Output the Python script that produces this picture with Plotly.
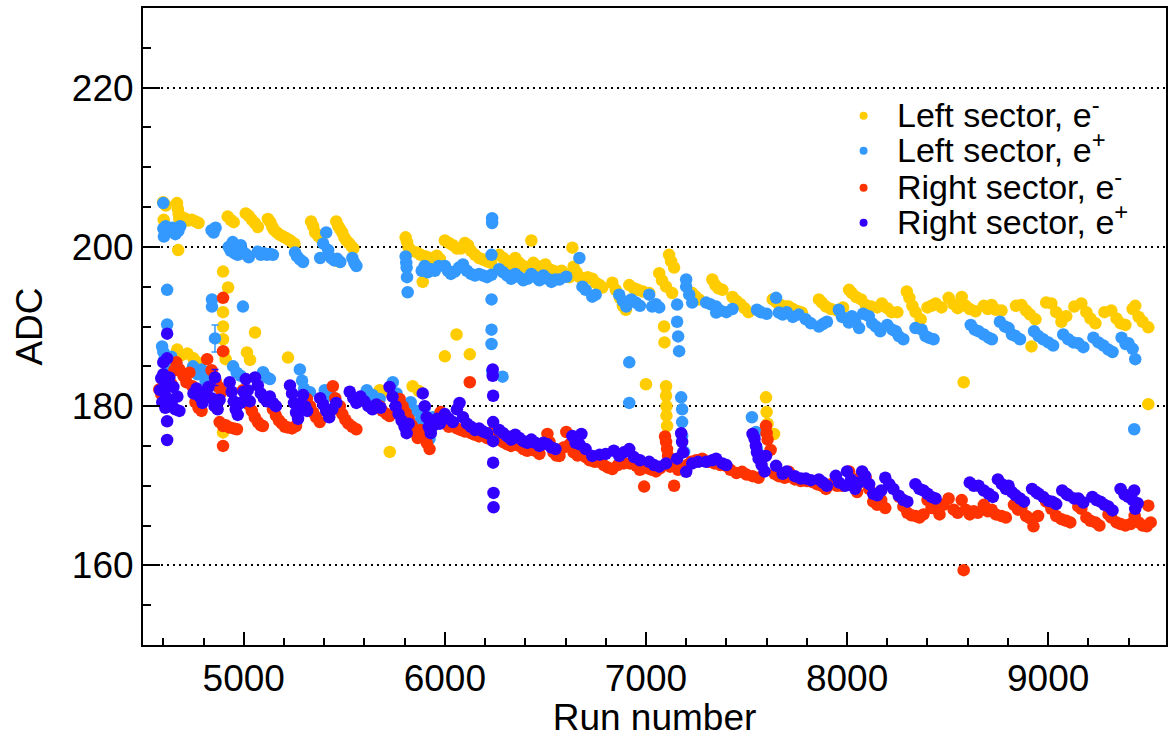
import plotly.graph_objects as go

# ---- Pedestal-subtracted ADC peak position versus run, per sector and beam charge ----
# Each list holds (run number, ADC) pairs.

left_em = [
    # upper band
    (4599, 205.6), (4602, 203.4), (4612, 205.2), (4668, 205.5), (4672, 204.8), (4676, 204.2),
    (4680, 203.5), (4684, 202.7), (4674, 199.6), (4705, 203.6), (4725, 203.3), (4742, 203.4),
    (4760, 203.2), (4775, 203.0),
    (4920, 203.8), (4935, 203.4), (4950, 203.1), (5010, 204.2), (5025, 203.9), (5040, 203.4),
    (5055, 203.0), (5070, 202.5),
    (5120, 203.5), (5132, 203.1), (5142, 202.5), (5152, 202.1), (5165, 201.8), (5180, 201.5),
    (5195, 201.3), (5210, 201.1), (5225, 200.9), (5240, 200.6), (5252, 200.4),
    (5335, 203.2), (5345, 202.6), (5355, 201.8), (5370, 201.4), (5385, 201.0), (5460, 203.2),
    (5470, 202.6), (5480, 202.2), (5490, 201.8), (5500, 201.2), (5510, 200.8), (5522, 200.5),
    (5535, 200.1), (5545, 199.8), (5468, 198.2),
    (5805, 201.2), (5812, 200.6), (5820, 199.9), (5835, 199.5), (5860, 199.3), (5880, 199.0),
    (5890, 195.6), (5905, 198.8), (5925, 198.6), (5940, 198.4), (5960, 198.9), (5975, 198.5),
    (6000, 200.8), (6020, 200.5), (6040, 200.2), (6060, 199.8), (6080, 199.8), (6100, 200.5),
    (6115, 200.2), (6130, 199.5), (6150, 199.0), (6170, 198.6), (6190, 198.4), (6210, 198.2),
    (6230, 198.0),
    (6270, 199.0), (6290, 198.6), (6310, 198.2), (6330, 197.8), (6350, 198.6), (6370, 198.0),
    (6390, 197.6), (6410, 197.4), (6430, 200.8), (6440, 198.0), (6460, 197.6), (6480, 197.4),
    (6500, 197.8), (6520, 197.2), (6540, 197.0), (6555, 196.6),
    (6580, 197.0), (6600, 196.6), (6620, 196.2), (6634, 199.9), (6640, 197.5), (6655, 196.8),
    (6670, 196.2), (6690, 196.0), (6710, 196.2), (6733, 196.0), (6750, 195.5), (6770, 195.2),
    (6783, 194.9),
    (6833, 195.5), (6850, 194.6), (6870, 193.6), (6885, 192.6), (6900, 192.1), (6917, 195.2),
    (6940, 194.8), (6960, 194.6), (6985, 194.4), (7016, 194.2), (7066, 196.7), (7080, 195.8),
    (7100, 195.0), (7130, 194.2), (7115, 199.0), (7125, 198.2), (7140, 197.4),
    (7090, 190.0), (7092, 188.0),
    (7230, 194.2), (7245, 193.8), (7264, 193.4), (7330, 195.9), (7345, 195.2), (7360, 194.8),
    (7380, 194.6), (7430, 193.7), (7450, 193.2), (7470, 192.8), (7490, 192.3), (7510, 191.8),
    (7630, 193.4), (7650, 193.0), (7670, 192.7), (7700, 192.5), (7710, 192.5), (7730, 192.2),
    (7755, 191.9), (7775, 191.75), (7860, 193.4), (7875, 193.0), (7895, 192.5), (7920, 192.2),
    (7950, 192.0), (7980, 192.4),
    (8010, 194.6), (8024, 194.2), (8045, 193.7), (8070, 193.4), (8093, 192.7), (8120, 192.5),
    (8150, 192.4), (8173, 192.9), (8200, 192.3), (8222, 191.8), (8250, 191.8), (8297, 194.4),
    (8310, 193.6), (8325, 192.6), (8341, 191.8), (8366, 190.9),
    (8400, 192.4), (8420, 192.6), (8441, 192.9), (8470, 192.4), (8505, 193.6), (8530, 192.8),
    (8550, 192.3), (8570, 193.7), (8590, 192.6), (8610, 192.2), (8639, 191.9), (8680, 192.6),
    (8700, 192.2), (8719, 192.7), (8740, 192.1), (8768, 192.0),
    (8840, 192.6), (8867, 192.7), (8890, 192.0), (8910, 191.5), (8937, 190.9), (8990, 193.0),
    (9016, 192.9), (9040, 191.8), (9066, 190.6), (9090, 191.3), (9130, 192.5), (9165, 192.9),
    (9190, 191.8), (9210, 191.0), (9235, 190.4),
    (9280, 191.8), (9314, 192.0), (9340, 191.0), (9360, 190.4), (9384, 190.2), (9420, 192.2),
    (9433, 192.6), (9450, 191.2), (9470, 190.6), (9498, 189.9),
    # runs far off the band
    (4897, 196.9), (4922, 194.9), (4897, 191.8), (4897, 190.0), (5056, 189.25), (4897, 188.4),
    (4900, 186.8), (4910, 185.9), (4669, 187.1), (4690, 186.4), (4720, 186.6), (4750, 186.0),
    (4768, 185.5), (5016, 186.75), (5031, 185.8), (5220, 186.1), (4897, 176.7),
    (5676, 182.0), (5700, 181.8), (5840, 182.5), (5870, 181.9), (5726, 174.25),
    (6000, 186.25), (6058, 189.0), (6124, 186.5), (7000, 182.75),
    (7100, 182.5), (7100, 181.3), (7102, 180.0), (7102, 178.8), (7105, 177.5),
    (7597, 181.1), (7600, 179.25), (7605, 177.8), (7637, 176.5),
    (8580, 183.0), (8917, 187.5), (9498, 180.25),
]

left_ep = [
    # upper band
    (4600, 205.5), (4600, 202.3), (4603, 201.3), (4612, 202.6), (4630, 202.0), (4645, 202.4),
    (4660, 201.6), (4675, 202.0), (4684, 202.6),
    (4840, 202.1), (4850, 201.8), (4860, 202.4),
    (4925, 200.0), (4935, 199.5), (4945, 200.6), (4955, 199.2), (4970, 199.0), (4985, 200.2),
    (5000, 199.3), (5015, 199.0), (5025, 198.7),
    (5070, 199.4), (5085, 199.0), (5100, 199.2), (5115, 199.0), (5130, 199.1), (5145, 199.0),
    (5255, 199.3), (5265, 198.8), (5280, 198.4), (5295, 198.1),
    (5380, 198.6), (5395, 200.4), (5410, 201.8), (5420, 199.6), (5435, 198.6), (5450, 198.3),
    (5465, 198.5), (5480, 198.1),
    (5540, 198.6), (5550, 198.0), (5560, 197.6),
    (5805, 198.8), (5808, 198.0), (5810, 197.4), (5812, 196.2), (5815, 194.3),
    (5885, 197.0), (5900, 197.6), (5915, 196.8), (5930, 197.2), (5950, 197.0), (5970, 197.6),
    (6000, 197.6), (6015, 197.0), (6030, 196.6), (6050, 196.9), (6070, 197.4), (6090, 197.8),
    (6110, 197.0), (6130, 196.6), (6150, 196.4), (6170, 196.6), (6190, 196.4), (6210, 196.2),
    (6235, 203.6), (6235, 203.0), (6232, 199.0), (6232, 196.5), (6232, 193.4), (6232, 189.6),
    (6232, 187.8), (6235, 184.4), (6287, 183.7),
    (6270, 197.2), (6290, 196.8), (6310, 196.4), (6330, 196.0), (6350, 196.6), (6370, 196.2),
    (6390, 195.8), (6410, 196.0), (6430, 196.6), (6450, 196.2), (6470, 195.8), (6490, 196.4),
    (6510, 196.0), (6530, 195.6), (6550, 195.9),
    (6570, 195.9), (6604, 196.25), (6669, 198.6), (6684, 195.0), (6700, 194.6), (6733, 193.75),
    (6750, 194.0), (6867, 194.0), (6885, 193.2), (6902, 192.5), (6927, 193.4), (6950, 193.0),
    (6970, 192.6), (7016, 194.0), (7031, 192.5), (7050, 192.8), (7066, 192.4),
    (7155, 192.75), (7155, 190.6), (7160, 188.75), (7165, 186.9), (7200, 195.9), (7200, 195.0),
    (7215, 194.0), (7230, 193.0),
    (7299, 193.0), (7320, 192.8), (7349, 192.5), (7349, 191.75), (7370, 192.0), (7400, 191.8),
    (7430, 192.2),
    (7552, 192.1), (7570, 191.8), (7600, 191.6), (7647, 193.6), (7661, 191.75), (7680, 191.5),
    (7700, 191.8), (7730, 191.2), (7760, 191.5), (7795, 190.9), (7820, 190.4), (7860, 190.0),
    (7880, 190.3), (7900, 190.6), (7959, 192.1), (7975, 191.2), (8009, 190.5),
    (8024, 191.3), (8040, 190.6), (8060, 189.8), (8080, 191.6), (8108, 191.3), (8125, 190.4),
    (8143, 190.0), (8165, 189.4), (8200, 190.2), (8225, 189.6), (8242, 189.4), (8257, 188.8),
    (8280, 188.4), (8340, 189.8), (8371, 189.6), (8390, 188.8), (8406, 188.6), (8430, 188.4),
    (8615, 190.2), (8635, 189.6), (8654, 189.4), (8680, 189.0), (8704, 188.6), (8720, 188.4),
    (8760, 190.6), (8785, 190.0), (8803, 189.8), (8820, 189.0), (8838, 188.8), (8860, 188.4),
    (8930, 189.4), (8952, 188.8), (8975, 188.4), (9001, 188.0), (9025, 187.6),
    (9075, 189.0), (9100, 188.4), (9125, 188.0), (9150, 187.9), (9175, 187.4),
    (9225, 188.6), (9250, 188.0), (9275, 187.6), (9299, 187.1), (9320, 186.8),
    (9365, 188.6), (9385, 187.8), (9399, 187.9), (9420, 187.2), (9433, 185.9),
    # lower band and spikes
    (4594, 187.5), (4600, 186.8), (4605, 185.8), (4620, 185.0), (4640, 186.2), (4669, 185.0),
    (4619, 194.6), (4619, 190.25),
    (4748, 185.0), (4770, 184.0), (4790, 184.6), (4810, 183.2), (4830, 184.0), (4850, 183.0),
    (4867, 182.5), (4842, 193.4), (4842, 192.5), (4996, 192.5),
    (4947, 185.0), (4965, 184.2), (4985, 183.8), (5096, 184.25), (5115, 183.6), (5130, 183.4),
    (5279, 184.6), (5290, 183.2), (5300, 182.2), (5329, 181.75),
    (5403, 182.0), (5430, 181.3), (5612, 182.0), (5640, 181.4), (5676, 180.9),
    (5741, 183.0), (5760, 181.6), (5775, 180.2), (5790, 178.6), (5800, 177.5),
    (5830, 180.5), (5860, 179.4), (5880, 178.2), (5900, 179.8), (5924, 175.9), (5940, 178.6),
    (6917, 185.5), (6917, 180.4),
    (7175, 181.1), (7180, 179.6), (7180, 178.0), (7180, 176.25), (7190, 174.25),
    (7527, 178.6), (7547, 176.75), (7552, 174.6),
    (9428, 177.1),
]

right_em = [
    (4580, 182.1), (4590, 181.5), (4600, 182.5), (4610, 181.0), (4620, 180.2), (4640, 182.8),
    (4655, 184.5), (4665, 185.5), (4680, 184.6), (4700, 183.8), (4715, 183.0), (4730, 184.2),
    (4745, 182.5), (4760, 180.5), (4775, 179.8), (4790, 179.4),
    (4818, 185.9), (4840, 184.5), (4860, 183.2), (4875, 182.4), (4890, 181.8), (4897, 186.9),
    (4897, 193.6), (4897, 175.0), (4897, 177.5), (4880, 178.0), (4910, 177.6), (4930, 177.3),
    (4950, 177.2), (4966, 177.1),
    (4996, 182.0), (5010, 181.0), (5025, 180.2), (5040, 179.4), (5055, 178.6), (5070, 178.0),
    (5085, 177.6), (5095, 177.5),
    (5145, 179.6), (5160, 178.8), (5175, 178.2), (5190, 177.8), (5205, 177.4), (5220, 177.3),
    (5240, 177.2), (5260, 177.5),
    (5314, 180.9), (5330, 180.0), (5345, 179.2), (5360, 178.6), (5378, 178.0),
    (5443, 182.5), (5455, 181.0), (5470, 179.6), (5478, 180.0), (5490, 179.0), (5505, 178.3),
    (5520, 177.8), (5540, 177.4), (5560, 177.1),
    (5676, 180.0), (5690, 179.4), (5710, 179.0), (5725, 178.75),
    (5775, 180.9), (5790, 180.0), (5805, 179.2), (5820, 178.4), (5835, 177.6), (5850, 176.8),
    (5865, 176.0), (5880, 177.0), (5895, 176.2), (5910, 175.4), (5924, 174.6),
    (5979, 179.25), (6000, 177.8), (6020, 177.4), (6040, 177.6), (6060, 177.2), (6080, 177.0),
    (6100, 176.8), (6124, 183.0), (6130, 176.6), (6150, 176.4), (6170, 176.2), (6190, 176.5),
    (6210, 176.0), (6230, 175.8), (6240, 176.8),
    (6270, 175.8), (6290, 175.5), (6310, 175.2), (6330, 175.0), (6350, 175.4), (6370, 175.0),
    (6390, 174.6), (6410, 174.4), (6430, 174.8), (6450, 174.4), (6470, 174.0), (6490, 175.2),
    (6510, 176.5), (6520, 175.5), (6540, 174.2), (6555, 173.8),
    (6570, 173.75), (6590, 174.8), (6604, 176.75), (6620, 175.2), (6640, 174.2), (6660, 173.8),
    (6680, 174.0), (6700, 173.6), (6720, 173.2), (6745, 173.0), (6768, 173.0), (6790, 172.6),
    (6810, 172.3), (6833, 172.1), (6860, 172.6), (6890, 172.8), (6920, 172.8), (6952, 172.5),
    (6970, 172.0), (6991, 169.9), (7010, 172.2), (7030, 172.0), (7050, 171.8), (7070, 172.2),
    (7095, 176.2), (7100, 175.5), (7105, 174.6), (7110, 173.75), (7120, 172.4), (7140, 170.0),
    (7160, 172.0), (7185, 172.2), (7205, 172.6), (7225, 173.0), (7250, 173.2), (7280, 173.4),
    (7310, 173.0), (7340, 172.8), (7370, 172.6), (7398, 172.5), (7420, 172.0), (7450, 171.6),
    (7478, 171.75), (7500, 171.4), (7530, 171.2), (7560, 171.0), (7597, 177.5), (7600, 176.6),
    (7605, 175.8), (7620, 174.5), (7640, 171.5), (7660, 171.2), (7690, 171.0), (7711, 171.75),
    (7740, 170.8), (7770, 170.6), (7800, 170.6), (7825, 170.5), (7850, 170.2), (7875, 170.0),
    (7895, 169.6), (7920, 170.2), (7950, 170.0), (7974, 170.0),
    (8010, 171.8), (8030, 170.4), (8050, 169.2), (8070, 171.3), (8093, 171.0), (8110, 169.6),
    (8130, 168.0), (8150, 167.6), (8170, 168.2), (8190, 167.2), (8260, 168.6), (8280, 167.4),
    (8300, 166.6), (8320, 166.3), (8341, 166.2), (8360, 166.0), (8380, 166.4), (8400, 168.2),
    (8420, 167.2), (8441, 167.1), (8460, 166.4), (8480, 167.6), (8505, 168.4), (8530, 167.0),
    (8550, 166.6), (8570, 168.2), (8590, 167.0), (8610, 166.4), (8630, 166.8), (8650, 166.6),
    (8580, 159.4), (8680, 167.6), (8700, 166.8), (8719, 167.0), (8740, 166.4), (8768, 166.2),
    (8790, 166.0), (8830, 167.6), (8850, 167.0), (8867, 167.2), (8890, 166.2), (8910, 165.9),
    (8927, 164.9), (8950, 166.2), (8990, 168.0), (9016, 167.1), (9040, 166.2), (9066, 165.8),
    (9090, 165.6), (9110, 165.4), (9150, 167.4), (9165, 167.1), (9190, 166.0), (9210, 165.6),
    (9235, 165.4), (9255, 165.0), (9300, 166.4), (9314, 166.0), (9340, 165.4), (9360, 165.2),
    (9384, 165.0), (9410, 165.2), (9430, 166.2), (9450, 165.4), (9470, 165.0), (9490, 164.9),
    (9498, 167.5), (9510, 165.4),
]

right_ep = [
    (4584, 182.0), (4590, 183.5), (4595, 180.5), (4600, 184.0), (4605, 181.8), (4610, 179.8),
    (4615, 182.8), (4620, 181.0), (4630, 183.6), (4640, 180.4), (4650, 182.4), (4660, 179.6),
    (4670, 181.2), (4680, 179.4), (4619, 178.1), (4619, 175.75), (4619, 189.1), (4619, 186.0),
    (4600, 185.5),
    (4750, 181.6), (4765, 182.2), (4780, 181.2), (4795, 180.4), (4810, 181.8), (4825, 182.4),
    (4840, 181.0), (4855, 180.0), (4870, 179.6), (4880, 180.8),
    (4930, 183.0), (4940, 181.8), (4950, 180.6), (4960, 179.6), (4970, 178.9), (4985, 180.4),
    (5000, 181.8), (5010, 183.4), (5020, 182.0), (5030, 180.6),
    (5056, 183.6), (5070, 182.6), (5085, 181.6), (5100, 181.0), (5115, 180.6), (5130, 181.2),
    (5145, 180.4), (5160, 180.0),
    (5230, 182.6), (5240, 181.6), (5250, 180.4), (5260, 179.2), (5270, 178.4), (5280, 180.2),
    (5295, 181.4), (5305, 180.0), (5315, 179.4),
    (5380, 181.0), (5395, 180.2), (5410, 179.4), (5425, 178.6), (5440, 179.6), (5460, 180.4),
    (5527, 181.8), (5545, 181.0), (5560, 180.4), (5580, 181.2), (5600, 180.6), (5620, 180.0),
    (5640, 179.6), (5660, 180.2), (5680, 179.8),
    (5725, 182.4), (5740, 181.2), (5755, 180.0), (5770, 179.0), (5785, 178.2), (5800, 177.4),
    (5810, 176.6), (5820, 177.8),
    (5890, 181.6), (5900, 180.0), (5910, 178.6), (5920, 177.4), (5930, 176.6), (5945, 177.6),
    (5960, 178.4), (5975, 177.8),
    (6000, 179.0), (6020, 178.4), (6040, 178.0), (6060, 179.6), (6073, 180.4), (6090, 178.6),
    (6110, 177.8), (6130, 177.4), (6150, 177.0), (6170, 177.2), (6190, 176.8), (6210, 176.6),
    (6238, 184.6), (6238, 183.8), (6240, 181.3), (6240, 178.0), (6240, 175.6), (6240, 172.9),
    (6242, 169.1), (6242, 167.3),
    (6270, 177.0), (6290, 176.6), (6310, 176.2), (6330, 175.8), (6350, 176.4), (6370, 176.0),
    (6390, 175.6), (6410, 175.4), (6430, 175.8), (6450, 175.4), (6470, 175.0), (6490, 175.4),
    (6510, 175.2), (6530, 174.8), (6550, 174.6),
    (6634, 176.25), (6650, 175.4), (6670, 175.2), (6679, 176.5), (6700, 174.6), (6733, 173.75),
    (6770, 173.9), (6800, 174.0), (6840, 174.4), (6867, 173.75), (6890, 174.2), (6917, 174.6),
    (6940, 173.6), (6970, 173.2), (7016, 173.0), (7040, 172.6), (7066, 172.4), (7100, 172.8),
    (7155, 173.4), (7175, 176.6), (7180, 175.5), (7185, 174.2), (7200, 171.75), (7230, 172.8),
    (7260, 173.0), (7299, 173.0), (7330, 173.2), (7349, 173.4), (7380, 172.8), (7400, 172.6),
    (7530, 176.5), (7540, 175.9), (7547, 175.0), (7552, 174.2), (7560, 173.4), (7575, 172.6),
    (7590, 171.8), (7597, 173.75),
    (7647, 172.5), (7680, 171.5), (7700, 171.8), (7740, 171.2), (7770, 170.9), (7795, 170.9),
    (7820, 170.7), (7860, 170.8), (7880, 170.4), (7900, 170.0), (7944, 171.25), (7960, 170.4),
    (7990, 170.0),
    (8000, 171.8), (8020, 170.8), (8040, 169.6), (8060, 170.4), (8075, 171.8), (8090, 171.25),
    (8110, 170.2), (8130, 169.0), (8150, 168.8), (8170, 169.4), (8190, 171.0), (8210, 170.2),
    (8230, 169.6), (8257, 168.75), (8280, 168.2), (8300, 168.0), (8340, 170.2), (8360, 169.6),
    (8380, 169.4), (8400, 169.0), (8420, 168.6), (8440, 168.4),
    (8610, 170.4), (8630, 170.0), (8654, 170.0), (8680, 169.4), (8704, 169.0), (8725, 168.6),
    (8750, 170.8), (8770, 170.2), (8790, 169.6), (8803, 170.0), (8820, 169.2), (8838, 168.8),
    (8860, 168.4), (8880, 168.0), (8920, 169.6), (8940, 169.2), (8952, 169.0), (8975, 168.6),
    (9001, 168.1), (9020, 168.0), (9040, 167.7), (9070, 169.4), (9090, 169.0), (9100, 168.8),
    (9130, 168.4), (9150, 168.4), (9175, 167.9), (9220, 168.6), (9240, 168.2), (9260, 168.0),
    (9280, 167.6), (9299, 167.4), (9320, 166.9), (9360, 169.6), (9380, 168.9), (9399, 168.6),
    (9420, 168.2), (9433, 167.1), (9428, 169.4), (9445, 167.8),
]

# runs quoted with a visible statistical uncertainty: (run, ADC, error)
left_ep_err = [(4857, 188.5, 1.7)]
right_ep_err = [(4857, 183.6, 1.0)]

series_names = ["Left sector, e<sup>-</sup>", "Left sector, e<sup>+</sup>",
                "Right sector, e<sup>-</sup>", "Right sector, e<sup>+</sup>"]
series_colors = ["#FFCC00", "#3399FF", "#FF3300", "#3300FF"]
series_data = [left_em, left_ep, right_em, right_ep]
series_err = [[], left_ep_err, [], right_ep_err]

x_range = [4499, 9586]
y_range = [150, 230]
x_ticks = [5000, 6000, 7000, 8000, 9000]
y_ticks = [160, 180, 200, 220]

FONT = "Liberation Sans, Arial, Helvetica, sans-serif"
MARKER_SIZE = 12.5

fig = go.Figure()

for name, color, pts, err_pts in zip(series_names, series_colors, series_data, series_err):
    fig.add_trace(go.Scatter(
        x=[p[0] for p in pts], y=[p[1] for p in pts], mode="markers",
        name=name, showlegend=False,
        marker=dict(size=MARKER_SIZE, color=color, line=dict(width=0)),
    ))
    if err_pts:
        fig.add_trace(go.Scatter(
            x=[p[0] for p in err_pts], y=[p[1] for p in err_pts],
            mode="markers", showlegend=False,
            marker=dict(size=MARKER_SIZE, color=color, line=dict(width=0)),
            error_y=dict(type="data", array=[p[2] for p in err_pts],
                         color=color, thickness=1.5, width=3.5),
        ))

# compact ROOT-style legend, placed in plot-frame pixels
PLOT_L, PLOT_R, PLOT_T, PLOT_B = 143, 1168, 7, 645
W = PLOT_R - PLOT_L
H = PLOT_B - PLOT_T


def px_x(px):
    return (px - PLOT_L) / W


def px_y(py):
    return (PLOT_B - py) / H


legend_rows = [115, 150, 187, 222]
shapes = []
annotations = []
for name, color, row in zip(series_names, series_colors, legend_rows):
    shapes.append(dict(type="circle", xref="paper", yref="paper",
                       x0=px_x(861), x1=px_x(869), y0=px_y(row + 4), y1=px_y(row - 4),
                       fillcolor=color, line=dict(width=0)))
    annotations.append(dict(text=name, xref="paper", yref="paper",
                            x=px_x(896), y=px_y(row - 3), xanchor="left", yanchor="middle",
                            showarrow=False, font=dict(family=FONT, size=34, color="black")))

fig.update_layout(
    width=1174, height=738,
    margin=dict(l=PLOT_L, r=1174 - PLOT_R, t=PLOT_T, b=738 - PLOT_B),
    paper_bgcolor="white", plot_bgcolor="white",
    font=dict(family=FONT, size=37, color="black"),
    shapes=shapes, annotations=annotations,
    xaxis=dict(
        range=x_range, tickvals=x_ticks, ticktext=[str(v) for v in x_ticks],
        showgrid=False, zeroline=False,
        showline=True, linecolor="black", linewidth=2, mirror=True,
        ticks="inside", ticklen=13, tickwidth=1.5, tickcolor="black",
        minor=dict(dtick=200, tick0=5000, ticks="inside", ticklen=7, tickwidth=1.5,
                   tickcolor="black", showgrid=False),
        tickfont=dict(family=FONT, size=37),
        title=dict(text="Run number", font=dict(family=FONT, size=37), standoff=6),
    ),
    yaxis=dict(
        range=y_range, tickvals=y_ticks, ticktext=[str(v) for v in y_ticks],
        showgrid=True, gridcolor="black", gridwidth=1.5, griddash="2px,4px",
        zeroline=False,
        showline=True, linecolor="black", linewidth=2, mirror=True,
        ticks="inside", ticklen=17, tickwidth=1.5, tickcolor="black",
        minor=dict(dtick=5, tick0=150, ticks="inside", ticklen=8, tickwidth=1.5,
                   tickcolor="black", showgrid=False),
        tickfont=dict(family=FONT, size=37),
        title=dict(text="ADC", font=dict(family=FONT, size=37), standoff=18),
    ),
)

fig.write_html("out.html")
